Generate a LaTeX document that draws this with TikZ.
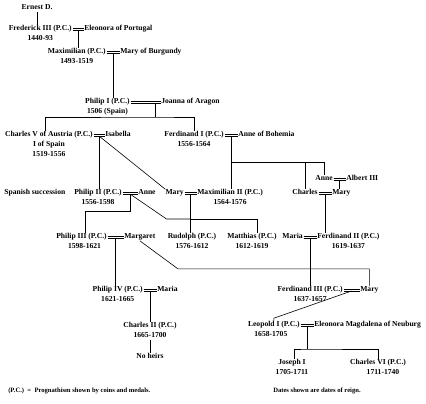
\documentclass[tikz,border=0pt]{standalone}
\usepackage{fontspec}
\setmainfont{Liberation Serif}
\usetikzlibrary{positioning,calc}

\begin{document}
\begin{tikzpicture}[x=1pt,y=-1pt,line width=.6pt,
  nm/.style={inner sep=0pt,text height=5.4pt,text depth=1.6pt,font=\fontsize{7.6}{9}\selectfont\bfseries},
  yr/.style={nm,below=2.4pt of #1},
  note/.style={nm,anchor=west,font=\fontsize{6.6}{8}\selectfont\bfseries},
  wed/.style={line width=.6pt,shorten <=.5pt,shorten >=.5pt}]
\useasboundingbox[fill=white] (0,0) rectangle (426,404);
% generations
\node[nm] (ernest) at (37,8) {Ernest D.};
\node[nm,anchor=east] (fred) at (72,29) {Frederick III (P.C.)};
\node[nm,anchor=west] (eleo) at (84,29) {Eleonora of Portugal};
\node[yr=fred] (fredd) {1440-93};
\node[nm,anchor=east] (maxi) at (106,52) {Maximilian (P.C.)};
\node[nm,anchor=west] (mburg) at (120,52) {Mary of Burgundy};
\node[yr=maxi] (maxid) {1493-1519};
\node[nm,anchor=east] (phil1) at (130,102) {Philip I (P.C.)};
\node[nm,anchor=west] (joanna) at (161,102) {Joanna of Aragon};
\node[yr=phil1] (phil1d) {1506 (Spain)};
\node[nm,anchor=east] (charles5) at (93,135) {Charles V of Austria (P.C.)};
\node[nm,anchor=west] (isab) at (105,135) {Isabella};
\node[yr=charles5] (charles5s) {I of Spain};
\node[yr=charles5s] (charles5d) {1519-1556};
\node[nm,anchor=east] (ferd1) at (224,135) {Ferdinand I (P.C.)};
\node[nm,anchor=west] (anneb) at (238,135) {Anne of Bohemia};
\node[yr=ferd1] (ferd1d) {1556-1564};
\node[nm,anchor=west] (spain) at (4,193) {Spanish succession};
\node[nm,anchor=east] (phil2) at (122,193) {Philip II (P.C.)};
\node[nm,anchor=west] (anne) at (138,193) {Anne};
\node[yr=phil2] (phil2d) {1556-1598};
\node[nm,anchor=east] (mary) at (184,193) {Mary};
\node[nm,anchor=west] (max2) at (197,193) {Maximilian II (P.C.)};
\node[yr=max2] (max2d) {1564-1576};
\node[nm,anchor=east] (anne3) at (333,179) {Anne};
\node[nm,anchor=west] (albert) at (346,179) {Albert III};
\node[nm,anchor=east] (charles) at (318,193) {Charles};
\node[nm,anchor=west] (cmary) at (332,193) {Mary};
\node[nm,anchor=east] (phil3) at (107,237) {Philip III (P.C.)};
\node[nm,anchor=west] (marg) at (124,237) {Margaret};
\node[yr=phil3,xshift=3pt] (phil3d) {1598-1621};
\node[nm] (rudolph) at (192,237) {Rudolph (P.C.)};
\node[yr=rudolph] (rudolphd) {1576-1612};
\node[nm] (matthias) at (252,237) {Matthias (P.C.)};
\node[yr=matthias] (matthiasd) {1612-1619};
\node[nm,anchor=east] (maria) at (303,237) {Maria};
\node[nm,anchor=west] (ferd2) at (317,237) {Ferdinand II (P.C.)};
\node[yr=ferd2] (ferd2d) {1619-1637};
\node[nm,anchor=east] (phil4) at (143,290) {Philip IV (P.C.)};
\node[nm,anchor=west] (pmaria) at (157,290) {Maria};
\node[yr=phil4] (phil4d) {1621-1665};
\node[nm,anchor=east] (ferd3) at (343,290) {Ferdinand III (P.C.)};
\node[nm,anchor=west] (fmary) at (360,290) {Mary};
\node[yr=ferd3] (ferd3d) {1637-1657};
\node[nm] (charles2) at (150,326) {Charles II (P.C.)};
\node[yr=charles2] (charles2d) {1665-1700};
\node[nm] (noheirs) at (150,357) {No heirs};
\node[nm,anchor=east] (leopold) at (300,325) {Leopold I (P.C.)};
\node[nm,anchor=west] (eleon) at (314,325) {Eleonora Magdalena of Neuburg};
\node[yr=leopold,xshift=-3pt] (leopoldd) {1658-1705};
\node[nm] (joseph) at (292,363) {Joseph I};
\node[yr=joseph] (josephd) {1705-1711};
\node[nm] (charles6) at (378,363) {Charles VI (P.C.)};
\node[yr=charles6,xshift=5pt] (charles6d) {1711-1740};
% notes
\node[note] (pcnote) at (8,391) {(P.C.)~~=~~Prognathism shown by coins and medals.};
\node[note] (datenote) at (273,391) {Dates shown are dates of reign.};
% marriage points (on the lower stroke)
\coordinate (fredw) at ($(fred.east)!.5!(eleo.west)+(0,1)$);
\coordinate (maxw) at ($(maxi.east)!.5!(mburg.west)+(0,1)$);
\coordinate (p1w) at ($(phil1.east)!.8!(joanna.west)+(0,1)$);
\coordinate (c5w) at ($(charles5.east)!.5!(isab.west)+(0,1)$);
\coordinate (f1w) at ($(ferd1.east)!.5!(anneb.west)+(0,1)$);
\coordinate (p2w) at ($(phil2.east)!.5!(anne.west)+(0,1)$);
\coordinate (m2w) at ($(mary.east)!.5!(max2.west)+(0,1)$);
\coordinate (a3w) at ($(anne3.east)!.5!(albert.west)+(0,1)$);
\coordinate (cmw) at ($(charles.east)!.5!(cmary.west)+(0,1)$);
\coordinate (p3w) at ($(phil3.east)!.5!(marg.west)+(0,1)$);
\coordinate (f2w) at ($(maria.east)!.5!(ferd2.west)+(0,1)$);
\coordinate (p4w) at ($(phil4.east)!.5!(pmaria.west)+(0,1)$);
\coordinate (f3w) at ($(ferd3.east)!.5!(fmary.west)+(0,1)$);
\coordinate (lw) at ($(leopold.east)!.5!(eleon.west)+(0,1)$);
% descent lines
\draw (ernest) -- (ernest.south |- fred.north);
\draw (fredw) -- (fredw |- maxi.north);
\draw (maxw) -- (maxw |- phil1.north);
\draw (p1w) -- ++(0,14) coordinate (p1bar);
\draw ([xshift=-4pt]charles5.north) |- (p1bar) -| (ferd1.north);
\draw (c5w) -- (c5w |- phil2.north);
\draw (c5w) -- (mary.north west);
\draw (f1w) -- (f1w |- max2.north);
\draw (f1w) ++(0,26) coordinate (f1bar) -| (anne3.north);
\draw (charles.north) -- (charles.north |- f1bar);
\draw (a3w) -- (a3w |- cmary.north);
\draw (cmw) -- (cmw |- ferd2.north);
\draw (m2w) -- (m2w |- rudolph.north);
\draw (m2w) ++(0,25) coordinate (m2bar) -| ([xshift=5pt]matthias.north);
\draw (m2bar) -- ++(-24,0) -- (p2w);
\draw (p2w) -- ++(0,17) -| ([xshift=4pt]phil3.north);
\draw (p3w) -- (p3w |- phil4.north);
\draw (marg.south) -- ++(38,28) coordinate (mbend) -| (fmary.north);
\draw (f2w) -- (f2w |- ferd3.north);
\draw (p4w) -- (p4w |- charles2.north);
\draw (charles2d) -- (noheirs);
\draw (f3w) -- ([yshift=3pt]leopold.north) -- (leopold.north);
\draw (lw) -- ++(0,23) coordinate (lbar);
\draw ([xshift=2pt]joseph.north) |- (lbar) -| (charles6.north);
% marriages
\foreach \a/\b in {fred/eleo,maxi/mburg,phil1/joanna,charles5/isab,ferd1/anneb,phil2/anne,mary/max2,anne3/albert,charles/cmary,phil3/marg,maria/ferd2,phil4/pmaria,ferd3/fmary,leopold/eleon}{
  \draw[wed] ([yshift=1pt]\a.east) -- ([yshift=1pt]\b.west);
  \draw[wed] ([yshift=-1pt]\a.east) -- ([yshift=-1pt]\b.west);
}
\end{tikzpicture}
\end{document}
